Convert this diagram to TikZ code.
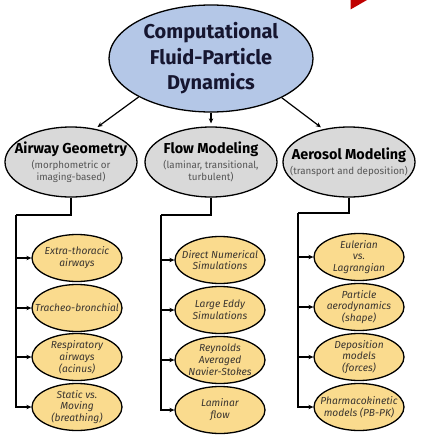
\documentclass[tikz,border=0pt]{standalone}
\usepackage{fontspec}
\setmainfont{Fira Sans}
\usetikzlibrary{shapes.geometric, arrows.meta}
\definecolor{topblue}{HTML}{B4C7E7}
\definecolor{midgray}{HTML}{D9D9D9}
\definecolor{leafyellow}{HTML}{FADB8E}
\definecolor{navy}{HTML}{161630}
\definecolor{subgray}{HTML}{555555}
\definecolor{leaftext}{HTML}{3A3530}
\definecolor{markred}{HTML}{C00000}
\begin{document}
\begin{tikzpicture}[x=1pt,y=-1pt,
  base/.style={ellipse, draw=black, line width=1.3pt, inner xsep=-40pt, inner ysep=-25pt, align=center},
  topnode/.style={base, fill=topblue, minimum width=204pt, minimum height=107pt,
    font=\fontsize{20}{25.5}\selectfont\bfseries, text=navy},
  midnode/.style={base, fill=midgray, minimum width=132pt, minimum height=70pt,
    font=\fontsize{9.8}{12}\selectfont, text=subgray},
  leaf/.style={base, fill=leafyellow, minimum width=90pt, minimum height=47pt,
    font=\fontsize{10.2}{11.8}\selectfont\itshape, text=leaftext},
  arr/.style={-{Stealth[length=5pt,width=4.5pt]}, line width=1.2pt},
  tree/.style={line width=1.2pt, line join=miter}
]
\useasboundingbox (0,0) rectangle (428,436);
\fill[markred] (350.5,0) -- (367,0) -- (350.5,9.5) -- cycle;

\node[topnode] (cfpd) at (211,58.5) {Computational\\Fluid-Particle\\Dynamics};

\node[midnode] (airway) at (71,162) {{\fontsize{14.4}{16}\selectfont\bfseries\color{black}Airway Geometry}\\[3pt](morphometric or\\imaging-based)};
\node[midnode] (flow) at (211,162) {{\fontsize{14.4}{16}\selectfont\bfseries\color{black}Flow Modeling}\\[3pt](laminar, transitional,\\turbulent)};
\node[midnode] (aerosol) at (349,162) {{\fontsize{14.4}{16}\selectfont\bfseries\color{black}Aerosol Modeling}\\[3pt](transport and deposition)};

\draw[arr, shorten >=3pt] (cfpd.208) -- (airway.54);
\draw[arr, shorten >=3pt] (cfpd.south) -- (flow.north);
\draw[arr, shorten >=3pt] (cfpd.331) -- (aerosol.128);

% left column
\node[leaf] (a1) at (77,258) {Extra-thoracic\\airways};
\node[leaf] (a2) at (77,308) {Tracheo-bronchial};
\node[leaf] (a3) at (77,357) {Respiratory\\airways\\(acinus)};
\node[leaf] (a4) at (77,407) {Static vs.\\Moving\\(breathing)};
% middle column
\node[leaf] (f1) at (220,260) {Direct Numerical\\Simulations};
\node[leaf] (f2) at (220,310) {Large Eddy\\Simulations};
\node[leaf] (f3) at (220,360) {Reynolds\\Averaged\\Navier-Stokes};
\node[leaf] (f4) at (220,410) {Laminar\\flow};
% right column
\node[leaf] (e1) at (359,257) {Eulerian\\vs.\\Lagrangian};
\node[leaf] (e2) at (359,307) {Particle\\aerodynamics\\(shape)};
\node[leaf] (e3) at (359,357) {Deposition\\models\\(forces)};
\node[leaf] (e4) at (359,407) {Pharmacokinetic\\models (PB-PK)};

\coordinate (ja) at (16,215);
\coordinate (jf) at (161,215);
\coordinate (je) at (298,213);

\draw[tree] (airway.south) |- (ja);
\draw[tree] (flow.south) |- (jf);
\draw[tree] (aerosol.south) |- (je);

\foreach \n in {a1,a2,a3,a4} \draw[arr] (ja) |- (\n.west);
\foreach \n in {f1,f2,f3,f4} \draw[arr] (jf) |- (\n.west);
\foreach \n in {e1,e2,e3,e4} \draw[arr] (je) |- (\n.west);
\end{tikzpicture}
\end{document}
